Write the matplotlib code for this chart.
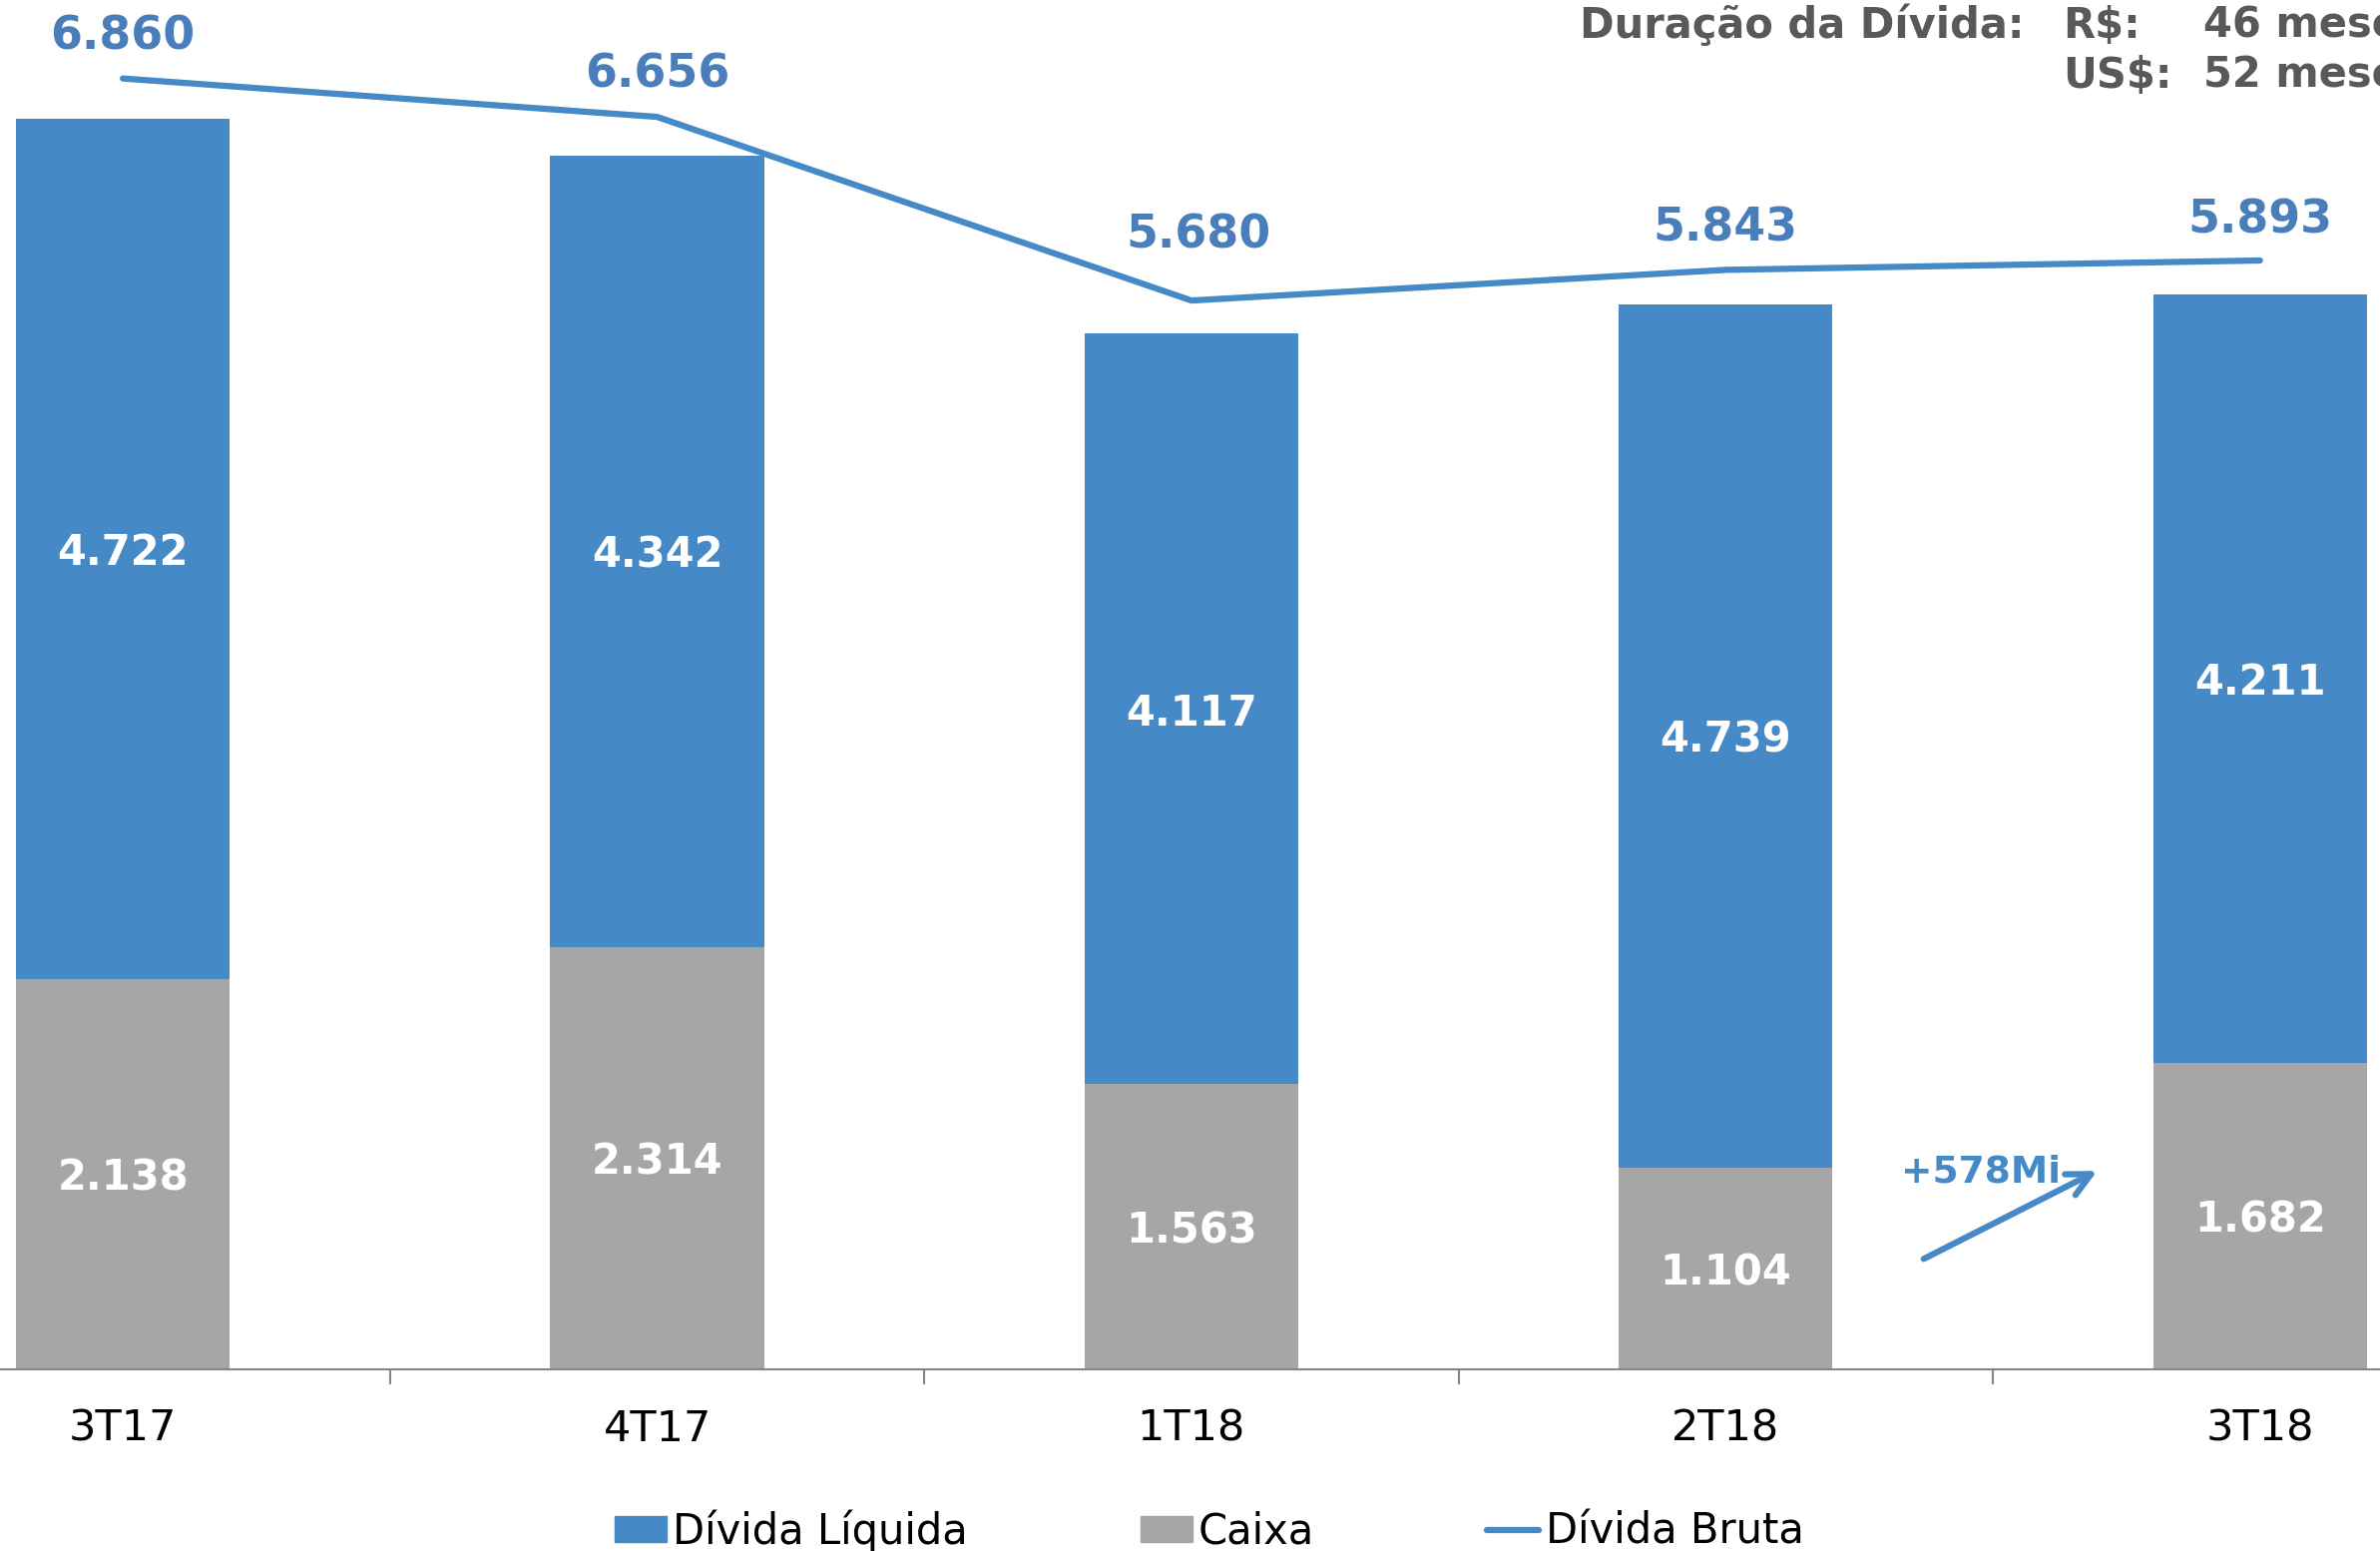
import numpy as np
import matplotlib
matplotlib.use("Agg")
import matplotlib.pyplot as plt
from matplotlib.patches import Patch
from matplotlib.lines import Line2D

# data (R$ milhões)
quarters = ["3T17", "4T17", "1T18", "2T18", "3T18"]
caixa = [2138, 2314, 1563, 1104, 1682]
divida_liquida = [4722, 4342, 4117, 4739, 4211]
divida_bruta = [6860, 6656, 5680, 5843, 5893]
variacao_caixa = "+578Mi"
duracao_rs = "46 meses"
duracao_us = "52 meses"

blue = "#4589C6"
gray = "#A6A6A6"
label_blue = "#4A7EBB"
dark = "#595959"


def fmt(v):
    return f"{v:,}".replace(",", ".")


plt.rcParams['font.family'] = ['DejaVu Sans']

fig = plt.figure(figsize=(23.85, 15.54), dpi=100)
ax = fig.add_axes([-0.0606, 0.1171, 1.1224, 0.8829])
ax2 = ax.twinx()
ax2.set_position(ax.get_position())

x = np.arange(len(quarters))
w = 0.4

ax.bar(x, caixa, width=w, color=gray, zorder=2)
ax.bar(x, divida_liquida, width=w, bottom=caixa, color=blue, zorder=2)

for i in range(len(x)):
    ax.annotate(fmt(caixa[i]), (x[i], caixa[i] / 2), xytext=(0, -3),
                textcoords="offset points", ha="center", va="center",
                color="white", fontsize=30, fontweight="bold", zorder=3)
    ax.annotate(fmt(divida_liquida[i]), (x[i], caixa[i] + divida_liquida[i] / 2),
                xytext=(0, -3), textcoords="offset points", ha="center",
                va="center", color="white", fontsize=30, fontweight="bold",
                zorder=3)

ymax = 7510
ax.set_ylim(0, ymax)
ax.set_xlim(-0.5, 4.5)
ax2.set_ylim(0, ymax / 1.032)

ax2.plot(x, divida_bruta, color=blue, linewidth=4.5, solid_capstyle="round",
         solid_joinstyle="round", zorder=4)

# label offsets in points (dx, dy)
offsets = [(0, 30), (0, 30), (5, 47), (0, 30), (0, 29)]
for i in range(len(x)):
    ax2.annotate(fmt(divida_bruta[i]), (x[i], divida_bruta[i]),
                 xytext=offsets[i], textcoords="offset points",
                 ha="center", va="center", color=label_blue, fontsize=33,
                 fontweight="bold")

# arrow showing cash increase
ax.annotate("", xy=(3.70, 1095), xytext=(3.366, 599),
            arrowprops=dict(arrowstyle="->", color=blue, lw=4.5,
                            mutation_scale=42))
ax.text(3.477, 1082, variacao_caixa, ha="center", va="center", color=blue,
        fontsize=27, fontweight="bold")

# axes styling
for s in ["top", "right", "left"]:
    ax.spines[s].set_visible(False)
    ax2.spines[s].set_visible(False)
ax2.spines["bottom"].set_visible(False)
ax.spines["bottom"].set_color("#868686")
ax.spines["bottom"].set_linewidth(1.5)
ax.set_yticks([])
ax2.set_yticks([])

ax.set_xticks(x)
ax.set_xticklabels(quarters, fontsize=31)
ax.tick_params(axis="x", which="major", length=0, pad=28)
ax.set_xticks(np.arange(-0.5, 5, 1), minor=True)
ax.tick_params(axis="x", which="minor", length=11, width=1.5, color="#868686",
               direction="out")

# debt duration box
fig.text(1583 / 2385, 1 - 26 / 1554, "Duração da Dívida:", ha="left",
         va="center", fontsize=30, fontweight="bold", color=dark)
fig.text(2067 / 2385, 1 - 26 / 1554, "R$:", ha="left", va="center",
         fontsize=30, fontweight="bold", color=dark)
fig.text(2208 / 2385, 1 - 26 / 1554, duracao_rs, ha="left", va="center",
         fontsize=30, fontweight="bold", color=dark)
fig.text(2067 / 2385, 1 - 76 / 1554, "US$:", ha="left", va="center",
         fontsize=30, fontweight="bold", color=dark)
fig.text(2208 / 2385, 1 - 76 / 1554, duracao_us, ha="left", va="center",
         fontsize=30, fontweight="bold", color=dark)

handles = [Patch(color=blue), Patch(color=gray),
           Line2D([0], [0], color=blue, linewidth=4.5, solid_capstyle="round")]
fig.legend(handles, ["Dívida Líquida", "Caixa", "Dívida Bruta"], ncol=3,
           loc="center", bbox_to_anchor=(0.508, 0.013), frameon=False,
           fontsize=30, handlelength=1.25, handleheight=0.6,
           handletextpad=0.15, columnspacing=4.15, borderpad=0)

fig.savefig("out.png", dpi=100)
